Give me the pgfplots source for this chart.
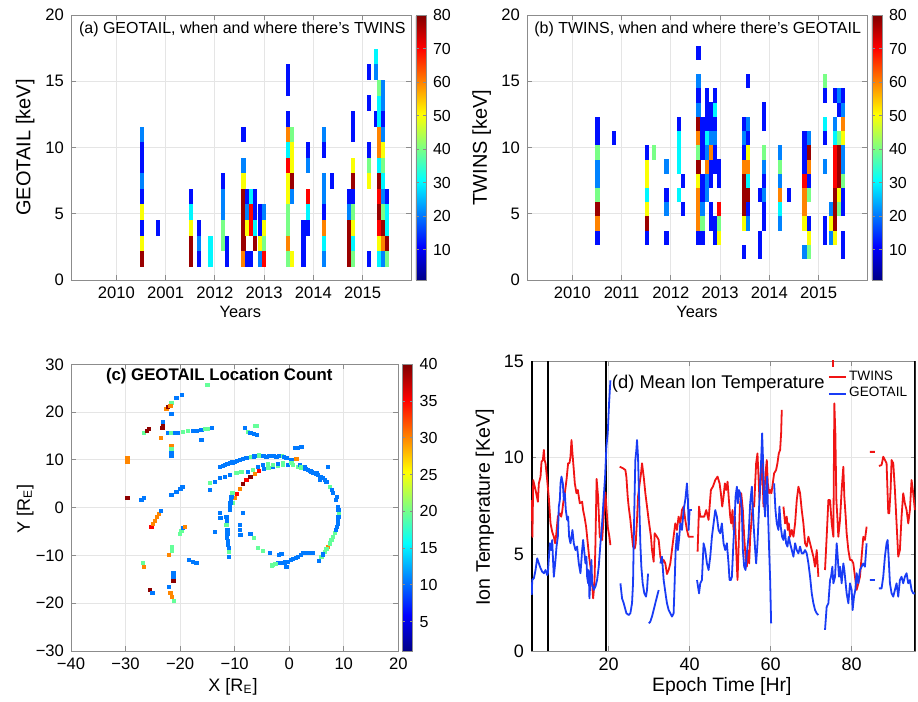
\documentclass[border=0pt]{standalone}
\usepackage{pgfplots}
\pgfplotsset{compat=1.18}
\usepackage{pgfplotstable}
\usepackage{fontspec}
\setmainfont{Liberation Sans}
\pgfkeys{/pgf/number format/assume math mode=true}
\pgfplotsset{colormap={mjet}{rgb255(0cm)=(0,0,135) rgb255(1cm)=(0,0,255) rgb255(3cm)=(0,255,255) rgb255(5cm)=(255,255,0) rgb255(7cm)=(255,0,0) rgb255(8cm)=(128,0,0)}}
\pgfdeclareplotmark{cellA}{\pgfpathrectangle{\pgfpoint{-1.05pt}{-3.9pt}}{\pgfpoint{2.1pt}{7.8pt}}\pgfusepathqfill}
\pgfdeclareplotmark{cellB}{\pgfpathrectangle{\pgfpoint{-1.05pt}{-3.56pt}}{\pgfpoint{2.1pt}{7.12pt}}\pgfusepathqfill}
\pgfdeclareplotmark{cellC}{\pgfpathrectangle{\pgfpoint{-1.05pt}{-1.05pt}}{\pgfpoint{2.1pt}{2.1pt}}\pgfusepathqfill}
\definecolor{twred}{RGB}{240,20,20}
\definecolor{geoblue}{RGB}{25,60,245}
\pgfplotsset{mstyle/.style={scale only axis, axis line style={black!45}, every tick/.style={black!45}, major tick length=2.5pt, grid=major, grid style={black!10,line width=0.4pt}, tick align=inside}}

\pgfplotstableread{
x y c
2010.52 1.59 78
2010.52 2.76 50
2010.52 3.94 12
2010.52 5.11 50
2010.52 6.29 12
2010.52 7.46 21
2010.52 8.64 12
2010.52 9.81 12
2010.52 10.99 21
2010.85 3.94 12
2011.51 1.59 78
2011.51 2.76 78
2011.51 3.94 50
2011.51 5.11 30
2011.51 6.29 12
2011.68 1.59 12
2011.68 2.76 21
2011.68 3.94 12
2011.91 1.59 30
2011.91 2.76 30
2012.16 2.76 40
2012.16 3.94 40
2012.16 5.11 21
2012.16 6.29 21
2012.16 7.46 12
2012.25 1.59 12
2012.25 2.76 12
2012.58 1.59 60
2012.58 2.76 78
2012.58 3.94 78
2012.58 5.11 78
2012.58 6.29 78
2012.58 7.46 50
2012.58 8.64 21
2012.58 10.99 12
2012.66 1.59 12
2012.66 3.94 50
2012.66 5.11 21
2012.66 6.29 12
2012.74 1.59 12
2012.74 3.94 70
2012.74 5.11 70
2012.74 6.29 30
2012.82 2.76 78
2012.82 3.94 30
2012.82 5.11 12
2012.82 6.29 12
2012.91 1.59 21
2012.91 2.76 50
2012.91 3.94 12
2012.91 5.11 12
2012.99 1.59 70
2012.99 2.76 40
2012.99 3.94 50
2012.99 5.11 21
2013.48 1.59 40
2013.48 2.76 60
2013.48 3.94 40
2013.48 5.11 40
2013.48 6.29 50
2013.48 7.46 50
2013.48 8.64 70
2013.48 9.81 30
2013.48 10.99 60
2013.48 12.16 12
2013.48 14.51 12
2013.48 15.69 12
2013.57 1.59 50
2013.57 6.29 21
2013.57 7.46 78
2013.57 8.64 50
2013.57 9.81 50
2013.57 10.99 40
2013.80 1.59 12
2013.80 2.76 12
2013.80 3.94 12
2013.89 3.94 12
2013.89 5.11 30
2013.89 6.29 70
2013.89 8.64 21
2013.89 9.81 12
2014.21 1.59 21
2014.21 2.76 30
2014.21 3.94 60
2014.21 5.11 12
2014.21 6.29 21
2014.21 7.46 21
2014.21 9.81 12
2014.21 10.99 21
2014.38 7.46 12
2014.72 1.59 78
2014.72 2.76 78
2014.72 3.94 78
2014.72 5.11 21
2014.72 6.29 12
2014.80 1.59 40
2014.80 2.76 30
2014.80 3.94 50
2014.80 5.11 40
2014.80 6.29 12
2014.80 7.46 78
2014.80 8.64 50
2014.80 10.99 12
2014.80 12.16 12
2015.13 1.59 12
2015.13 7.46 50
2015.13 8.64 40
2015.13 9.81 12
2015.13 13.34 12
2015.13 15.69 12
2015.27 12.16 12
2015.27 15.69 21
2015.27 16.86 30
2015.27 20.39 21
2015.33 1.59 30
2015.33 2.76 50
2015.33 3.94 70
2015.33 5.11 78
2015.33 6.29 70
2015.33 7.46 78
2015.33 8.64 30
2015.33 9.81 60
2015.33 10.99 60
2015.33 12.16 30
2015.33 13.34 30
2015.33 14.51 40
2015.41 1.59 21
2015.41 2.76 60
2015.41 3.94 78
2015.41 5.11 40
2015.41 6.29 21
2015.41 7.46 30
2015.41 8.64 40
2015.41 9.81 50
2015.41 10.99 21
2015.41 12.16 12
2015.41 13.34 21
2015.41 14.51 21
2015.50 1.59 40
2015.50 2.76 78
2015.50 3.94 30
2015.50 5.11 30
2015.50 6.29 12
}\dataA

\pgfplotstableread{
x y c
2010.51 3.18 12
2010.51 4.26 60
2010.51 5.33 78
2010.51 6.41 40
2010.51 7.48 21
2010.51 8.56 21
2010.51 9.63 40
2010.51 10.71 12
2010.51 11.78 12
2010.84 10.71 12
2011.51 3.18 12
2011.51 4.26 78
2011.51 5.33 50
2011.51 6.41 30
2011.51 7.48 50
2011.51 8.56 50
2011.51 9.63 12
2011.66 9.63 40
2011.91 3.18 12
2011.91 5.33 21
2011.91 6.41 12
2011.91 8.56 21
2012.16 6.41 30
2012.16 8.56 30
2012.16 9.63 30
2012.16 10.71 30
2012.16 11.78 12
2012.24 5.33 12
2012.24 7.48 12
2012.56 3.18 12
2012.56 4.26 60
2012.56 5.33 60
2012.56 6.41 60
2012.56 7.48 50
2012.56 8.56 78
2012.56 9.63 40
2012.56 10.71 60
2012.56 11.78 78
2012.56 12.86 21
2012.56 13.93 12
2012.56 15.01 21
2012.56 17.16 12
2012.64 3.18 12
2012.64 4.26 40
2012.64 5.33 21
2012.64 6.41 12
2012.64 7.48 12
2012.64 9.63 12
2012.64 10.71 12
2012.64 11.78 12
2012.73 6.41 21
2012.73 7.48 21
2012.73 8.56 60
2012.73 9.63 21
2012.73 10.71 30
2012.73 11.78 12
2012.73 12.86 12
2012.73 13.93 12
2012.81 4.26 12
2012.81 5.33 12
2012.81 7.48 12
2012.81 8.56 12
2012.81 9.63 60
2012.81 10.71 21
2012.81 11.78 12
2012.81 12.86 12
2012.90 3.18 12
2012.90 4.26 12
2012.90 8.56 12
2012.90 9.63 12
2012.90 10.71 21
2012.90 11.78 12
2012.90 12.86 30
2012.90 13.93 12
2012.98 3.18 50
2012.98 4.26 40
2012.98 5.33 70
2012.98 7.48 12
2012.98 8.56 12
2013.48 2.11 12
2013.48 4.26 50
2013.48 5.33 78
2013.48 6.41 78
2013.48 7.48 78
2013.48 8.56 60
2013.48 9.63 12
2013.48 10.71 21
2013.48 11.78 12
2013.56 4.26 21
2013.56 5.33 12
2013.56 6.41 78
2013.56 7.48 30
2013.56 8.56 60
2013.56 9.63 50
2013.56 10.71 12
2013.56 11.78 21
2013.56 15.01 12
2013.81 2.11 12
2013.81 3.18 12
2013.81 6.41 12
2013.89 4.26 12
2013.89 5.33 12
2013.89 6.41 21
2013.89 7.48 12
2013.89 8.56 21
2013.89 9.63 40
2013.89 11.78 12
2013.89 12.86 12
2014.22 4.26 21
2014.22 5.33 30
2014.22 6.41 60
2014.22 7.48 21
2014.22 8.56 40
2014.22 9.63 21
2014.39 6.41 12
2014.71 2.11 21
2014.71 4.26 50
2014.71 5.33 60
2014.71 6.41 60
2014.71 7.48 70
2014.71 8.56 12
2014.71 9.63 12
2014.71 10.71 12
2014.80 2.11 40
2014.80 3.18 50
2014.80 4.26 12
2014.80 6.41 40
2014.80 7.48 12
2014.80 8.56 60
2014.80 9.63 78
2014.80 10.71 21
2015.12 3.18 12
2015.12 4.26 12
2015.12 8.56 21
2015.12 10.71 12
2015.12 11.78 30
2015.12 13.93 12
2015.12 15.01 40
2015.25 3.18 21
2015.25 4.26 50
2015.25 5.33 21
2015.33 3.18 50
2015.33 4.26 78
2015.33 5.33 78
2015.33 6.41 78
2015.33 7.48 70
2015.33 8.56 70
2015.33 9.63 70
2015.33 10.71 30
2015.33 11.78 21
2015.33 13.93 12
2015.41 5.33 40
2015.41 6.41 50
2015.41 7.48 78
2015.41 8.56 78
2015.41 9.63 78
2015.41 10.71 40
2015.41 12.86 12
2015.41 13.93 21
2015.49 2.11 12
2015.49 3.18 12
2015.49 5.33 12
2015.49 6.41 12
2015.49 7.48 40
2015.49 8.56 21
2015.49 9.63 21
2015.49 10.71 50
2015.49 11.78 60
2015.49 12.86 21
2015.49 13.93 12
}\dataB

\pgfplotstableread{
x y c
-10.26 0.91 19.5
-9.96 1.95 30
-9.53 2.86 35
-9.04 3.84 30
-8.43 4.95 39.5
-7.82 5.79 35
-7.09 6.49 39.5
-6.29 7.05 30
-5.5 7.61 35
-4.64 8.03 10.5
-3.79 8.37 19.5
-2.93 8.58 10.5
-2.02 8.72 19.5
-1.1 8.86 19.5
-0.18 8.86 10.5
0.73 8.86 19.5
1.65 8.58 19.5
2.57 8.23 10.5
3.48 7.89 10.5
4.4 7.33 10.5
5.31 6.84 10.5
6.11 6.14 10.5
6.84 5.44 10.5
7.45 4.4 19.5
8.06 3.0 10.5
8.55 1.6 10.5
8.98 0.21 10.5
9.1 -1.19 19.5
8.98 -2.58 10.5
8.8 -3.98 10.5
8.37 -5.37 19.5
7.76 -6.77 19.5
7.15 -8.16 30
6.54 -9.21 19.5
5.93 -10.26 19.5
5.5 -11.17 10.5
4.4 -9.56 10.5
3.48 -9.56 10.5
2.57 -9.56 10.5
1.65 -10.26 10.5
0.73 -10.82 10.5
-0.18 -11.31 10.5
-0.49 -12.49 10.5
-1.22 -11.51 10.5
-2.02 -11.51 10.5
-2.93 -12.0 19.5
-1.4 -9.7 10.5
-1.83 -9.91 10.5
-3.54 -9.42 10.5
-4.76 -9.0 19.5
-5.68 -8.51 19.5
-6.48 -6.42 19.5
-7.09 -5.51 10.5
-12.71 -1.19 10.5
-12.58 -2.23 10.5
-13.62 -5.02 10.5
-11.48 -1.88 10.5
-11.48 -3.63 19.5
-11.3 -4.68 10.5
-11.36 -6.42 10.5
-11.18 -7.82 10.5
-11.0 -9.21 19.5
-11.0 -10.26 10.5
-10.87 -0.49 10.5
-10.75 0.91 10.5
-10.57 2.3 10.5
-10.38 3.0 19.5
-9.04 -3.63 10.5
-9.04 -4.68 10.5
-8.92 -5.72 10.5
-8.43 -1.05 10.5
-12.71 8.58 10.5
-11.79 8.93 10.5
-10.87 9.28 10.5
-9.96 9.63 10.5
-9.04 9.98 10.5
-7.82 10.33 10.5
-6.9 10.54 19.5
-5.99 10.82 10.5
-5.07 10.82 10.5
-4.15 10.68 10.5
-3.24 10.82 10.5
-2.32 10.68 10.5
-1.4 10.82 19.5
-0.49 10.33 10.5
0.43 9.98 10.5
1.34 10.12 30
-14.54 5.09 19.5
-14.54 3.7 10.5
-13.62 5.44 10.5
-12.71 6.14 10.5
-11.79 6.49 10.5
-10.87 6.84 10.5
-9.65 7.19 19.5
-8.74 7.54 19.5
-7.51 7.54 10.5
-6.6 7.89 19.5
-5.68 8.44 10.5
-4.76 8.93 10.5
-3.85 9.14 19.5
-2.93 8.93 19.5
-2.02 9.14 10.5
-1.1 9.28 19.5
0.43 9.42 19.5
1.95 8.93 10.5
2.87 8.58 10.5
4.09 7.54 10.5
5.0 7.19 10.5
5.74 6.49 10.5
7.15 8.58 10.5
1.04 12.42 10.5
1.65 12.56 10.5
2.26 12.63 10.5
-8.12 16.61 10.5
-7.51 15.91 19.5
-7.09 15.56 10.5
-6.48 15.35 10.5
-5.86 15.14 10.5
-6.29 17.1 19.5
-5.86 17.17 19.5
-29.63 1.95 39.5
-29.63 10.47 30
-29.63 9.63 30
-27.06 1.6 10.5
-26.63 1.95 10.5
-26.63 15.56 19.5
-26.14 16.05 39.5
-25.66 16.4 39.5
-23.21 16.61 39.5
-23.09 17.31 39.5
-23.15 18.0 10.5
-23.52 14.5 30
-22.48 20.57 30
-22.17 21.0 39.5
-21.56 21.97 19.5
-21.75 21.28 30
-21.56 19.6 10.5
-20.65 23.0 10.5
-19.61 23.56 10.5
-22.17 15.56 10.5
-21.56 15.56 19.5
-20.95 15.56 10.5
-20.34 15.56 10.5
-19.43 15.91 19.5
-18.51 16.12 19.5
-17.59 16.12 10.5
-16.86 16.12 10.5
-16.07 16.26 10.5
-15.46 16.4 19.5
-14.85 16.54 19.5
-14.11 16.61 10.5
-16.07 14.17 10.5
-14.97 25.67 19.5
-21.56 12.91 30
-21.56 12.21 19.5
-21.56 11.51 10.5
-21.56 10.89 10.5
-25.23 -3.98 35
-24.93 -3.42 30
-24.56 -2.72 30
-24.19 -2.02 30
-23.83 -1.33 30
-23.46 -0.7 10.5
-20.04 -5.51 19.5
-19.73 -4.88 19.5
-19.43 -4.33 10.5
-19.06 -3.98 30
-21.5 -8.16 19.5
-21.5 -9.0 19.5
-21.99 -9.91 30
-18.33 -10.96 10.5
-17.59 -11.31 10.5
-16.98 -11.51 10.5
-26.76 -11.65 19.5
-26.63 -12.49 30
-21.2 -13.75 10.5
-21.2 -14.59 10.5
-21.2 -15.28 39.5
-25.54 -17.24 39.5
-25.05 -17.8 10.5
-22.05 -16.68 10.5
-21.75 -17.94 30
-21.5 -18.77 30
-21.14 -19.54 19.5
-21.56 2.65 10.5
-20.65 3.35 10.5
-19.92 3.84 10.5
-19.55 4.4 10.5
8.8 2.3 10.5
9.05 -0.5 10.5
9.05 -1.9 10.5
8.9 -3.3 10.5
8.6 -4.7 10.5
8.1 -6.1 19.5
7.45 -7.5 19.5
6.85 -8.7 19.5
6.2 -9.8 10.5
5.7 5.8 10.5
6.5 5.8 10.5
4.85 7.1 10.5
3.9 7.6 10.5
3.0 8.05 10.5
2.1 8.4 19.5
7.8 3.7 10.5
3.9 -9.56 10.5
3.0 -9.56 10.5
2.1 -9.9 10.5
1.2 -10.5 10.5
0.3 -11.0 10.5
-0.7 -11.5 10.5
-1.7 -11.6 10.5
-2.5 -11.8 19.5
-3.2 -12.1 19.5
-8.4 10.2 10.5
-6.45 10.7 10.5
-5.5 10.9 19.5
-4.6 10.8 10.5
-3.7 10.75 10.5
-2.8 10.75 10.5
-1.9 10.75 10.5
-0.95 10.6 10.5
-10.4 9.45 10.5
-9.5 9.8 10.5
-11.3 9.1 10.5
-12.2 8.75 10.5
-11.4 -2.8 10.5
-11.3 -5.5 10.5
-11.25 -7.1 10.5
-11.1 -8.5 10.5
-10.8 0.2 10.5
-10.65 1.6 10.5
}\dataC

\begin{document}
\begin{tikzpicture}
\path[use as bounding box] (0,0) rectangle (459pt,351pt);

% ---------------- (a)
\begin{axis}[mstyle, at={(35.5pt,211pt)}, anchor=south west, width=170pt, height=132.5pt,
  xmin=2009.08, xmax=2015.98, ymin=0, ymax=20,
  xtick={2010,2011,2012,2013,2014,2015}, xticklabels={2010,2001,2012,2013,2014,2015},
  ytick={0,5,10,15,20},
  tick label style={font=\fontsize{8.3}{9}\selectfont},
  xlabel={Years}, xlabel style={font=\fontsize{8.2}{9}\selectfont, at={(axis description cs:0.498,-0.12)}, anchor=center},
  ylabel={GEOTAIL [keV]}, ylabel style={font=\fontsize{10}{11}\selectfont, at={(axis description cs:-0.135,0.5)}, anchor=center},
  colormap name=mjet, point meta min=1, point meta max=80, colorbar,
  colorbar style={at={(parent axis.north east)}, anchor=north west, xshift=-6.04pt, width=5pt,
    ytick={10,20,...,80}, yticklabel style={font=\fontsize{8}{9}\selectfont},
    major tick length=1.5pt, axis line style={black!45}, every tick/.style={black!45}}]
\addplot[scatter, only marks, mark=cellA, scatter src=explicit] table[x=x,y=y,meta=c]{\dataA};
\node[font=\fontsize{8}{9}\selectfont] at (rel axis cs:0.504,0.946) {(a) GEOTAIL, when and where there's TWINS};
\end{axis}

% ---------------- (b)
\begin{axis}[mstyle, at={(263.5pt,211pt)}, anchor=south west, width=170pt, height=132.5pt,
  xmin=2009.08, xmax=2015.98, ymin=0, ymax=20,
  xtick={2010,2011,2012,2013,2014,2015}, xticklabels={2010,2011,2012,2013,2014,2015},
  ytick={0,5,10,15,20},
  tick label style={font=\fontsize{8.3}{9}\selectfont},
  xlabel={Years}, xlabel style={font=\fontsize{8.2}{9}\selectfont, at={(axis description cs:0.5,-0.12)}, anchor=center},
  ylabel={TWINS [keV]}, ylabel style={font=\fontsize{10}{11}\selectfont, at={(axis description cs:-0.133,0.5)}, anchor=center},
  colormap name=mjet, point meta min=1, point meta max=80, colorbar,
  colorbar style={at={(parent axis.north east)}, anchor=north west, xshift=-6.04pt, width=5pt,
    ytick={10,20,...,80}, yticklabel style={font=\fontsize{8}{9}\selectfont},
    major tick length=1.5pt, axis line style={black!45}, every tick/.style={black!45}}]
\addplot[scatter, only marks, mark=cellB, scatter src=explicit] table[x=x,y=y,meta=c]{\dataB};
\node[font=\fontsize{8}{9}\selectfont] at (rel axis cs:0.502,0.946) {(b) TWINS, when and where there's GEOTAIL};
\end{axis}

% ---------------- (c)
\begin{axis}[mstyle, at={(35.5pt,25.5pt)}, anchor=south west, width=163.65pt, height=143.35pt,
  xmin=-40, xmax=20, ymin=-30, ymax=30,
  xtick={-40,-30,-20,-10,0,10,20}, xticklabels={−40,−30,−20,−10,0,10,20},
  ytick={-30,-20,-10,0,10,20,30}, yticklabels={−30,−20,−10,0,10,20,30},
  tick label style={font=\fontsize{8.3}{9}\selectfont},
  xlabel={X [R\textsubscript{E}]}, xlabel style={font=\fontsize{9}{10}\selectfont, at={(axis description cs:0.495,-0.125)}, anchor=center},
  ylabel={Y [R\textsubscript{E}]}, ylabel style={font=\fontsize{9}{10}\selectfont, at={(axis description cs:-0.14,0.495)}, anchor=center},
  colormap name=mjet, point meta min=1, point meta max=40, colorbar,
  colorbar style={at={(parent axis.north east)}, anchor=north west, xshift=-6.54pt, width=5.2pt,
    ytick={5,10,...,40}, yticklabel style={font=\fontsize{8}{9}\selectfont},
    major tick length=1.5pt, axis line style={black!45}, every tick/.style={black!45}}]
\addplot[scatter, only marks, mark=cellC, scatter src=explicit] table[x=x,y=y,meta=c]{\dataC};
\node[font=\bfseries\fontsize{8.4}{9}\selectfont] at (rel axis cs:0.453,0.959) {(c) GEOTAIL Location Count};
\end{axis}

% ---------------- (d)
\begin{axis}[mstyle, at={(265.5pt,25.5pt)}, anchor=south west, width=192.35pt, height=145pt,
  xmin=0.8, xmax=95.8, ymin=0, ymax=15,
  xtick={20,40,60,80}, ytick={0,5,10,15},
  tick label style={font=\fontsize{9}{10}\selectfont},
  xlabel={Epoch Time [Hr]}, xlabel style={font=\fontsize{9.7}{11}\selectfont, at={(axis description cs:0.496,-0.124)}, anchor=center},
  ylabel={Ion Temperature [KeV]}, ylabel style={font=\fontsize{9.8}{11}\selectfont, at={(axis description cs:-0.12,0.495)}, anchor=center},
  unbounded coords=jump,
  legend style={at={(0.985,0.975)}, anchor=north east, draw=none, fill=none, font=\fontsize{6.8}{7}\selectfont, inner sep=0pt, row sep=-0.5pt, nodes={inner sep=1.2pt}},
  legend cell align=left,
  legend image code/.code={\draw[#1, line width=1pt] (0pt,0pt) -- (8.5pt,0pt);}]
\addplot[black, line width=1pt, forget plot] coordinates {(1.1,0) (1.1,15)};
\addplot[black, line width=1pt, forget plot] coordinates {(5.1,0) (5.1,15)};
\addplot[black, line width=1pt, forget plot] coordinates {(19.3,0) (19.3,15)};
\addplot[black, line width=1pt, forget plot] coordinates {(95.65,0) (95.65,15)};
\addplot[twred, line width=0.9pt, line join=round] coordinates {
(1.0,7.8) (1.15,5.9) (1.35,8.84) (1.92,8.33) (2.5,7.72) (2.74,8.67) (3.16,9.02) (3.4,9.79) (3.73,9.88) (3.98,10.4) (4.14,9.88) (4.39,9.71) (4.8,8.84) (5.21,7.9) (5.62,6.6) (6.03,6.17) (6.44,5.91) (6.77,5.57) (7.02,6.0) (7.43,6.95) (7.92,7.12) (8.25,6.95) (8.5,7.21) (8.74,7.64) (9.15,8.16) (9.56,8.84) (9.97,9.71) (10.3,9.71) (10.55,10.05) (10.8,10.91) (11.04,10.22) (11.37,9.36) (11.62,8.67) (12.03,8.16) (12.36,8.33) (12.85,7.64) (13.43,7.72) (13.67,7.29) (14.0,6.95) (14.41,6.43) (14.82,5.57) (15.15,4.88) (15.48,4.36) (15.81,3.84) (16.14,2.72) (16.47,3.5) (16.71,5.5) (17.0,8.9) (17.37,7.98) (17.78,5.91) (18.36,5.74) (18.77,6.95) (19.18,8.2) (19.75,6.43) (20.16,5.91) (20.41,5.48) (21,nan)
(22.71,9.53) (23.53,9.45) (24.11,9.36) (24.36,9.0) (24.68,7.98) (24.93,7.45) (25.34,6.78) (25.75,5.91) (26.0,5.4) (26.41,5.3) (26.66,5.57) (26.98,6.78) (27.23,7.98) (27.64,8.67) (27.97,9.19) (28.22,9.71) (28.63,9.02) (29.04,8.16) (29.45,7.47) (29.86,6.78) (30.43,5.91) (30.68,5.22) (31.09,4.62) (31.34,6.09) (31.91,5.91) (32.33,5.74) (32.74,4.88) (33.15,4.53) (33.56,4.71) (33.97,4.53) (34.38,3.98) (34.79,4.19) (35.2,4.53) (35.61,5.22) (36.02,5.91) (36.43,6.6) (36.84,6.26) (37.25,6.95) (37.67,6.6) (38.08,7.29) (38.49,7.47) (38.9,6.78) (39.31,6.26) (39.72,5.91) (40.13,5.91) (40.95,5.91) (41.5,nan)
(41.94,5.14) (42.3,7.47) (42.6,6.95) (43.59,6.95) (44.08,7.29) (44.65,6.78) (45.23,8.33) (45.72,8.5) (46.3,8.84) (46.87,9.02) (47.37,8.67) (47.69,8.16) (48.02,7.47) (48.35,7.98) (48.68,8.67) (49.01,8.33) (49.34,8.76) (49.67,7.81) (50.0,6.95) (50.24,6.6) (50.57,7.29) (50.82,6.26) (51.15,6.95) (51.47,5.22) (51.8,3.67) (52.05,5.22) (52.38,7.47) (52.71,8.16) (53.12,7.29) (53.45,5.91) (53.78,4.88) (54.1,4.36) (54.35,5.22) (54.68,4.53) (54.93,5.91) (55.34,6.95) (55.58,7.64) (55.91,7.47) (56.16,8.67) (56.4,9.71) (56.73,10.22) (56.98,9.02) (57.23,7.81) (57.55,9.02) (57.8,9.88) (58.05,8.67) (58.21,7.47) (58.46,8.33) (58.79,9.36) (59.03,9.88) (59.28,8.67) (59.61,8.16) (59.86,8.33) (60.18,8.16) (60.84,9.19) (61.33,9.36) (61.66,9.71) (61.99,10.22) (62.32,10.4) (62.57,11.26) (62.73,12.47) (62.9,nan)
(63.14,7.47) (63.55,6.6) (63.96,6.95) (64.21,6.26) (64.46,6.6) (64.79,5.91) (65.2,6.26) (65.61,5.91) (66.02,6.6) (66.43,7.81) (66.84,8.5) (67.25,8.16) (67.66,7.29) (68.07,6.6) (68.48,5.57) (68.89,5.4) (69.31,5.91) (69.72,5.57) (70.13,5.22) (70.54,4.88) (70.95,4.36) (71.36,5.22) (71.77,3.84) (72.5,nan)
(73.41,4.19) (73.82,5.91) (74.24,7.81) (74.65,7.81) (75.06,6.6) (75.47,5.91) (75.71,12.81) (75.96,11.26) (76.21,7.81) (76.45,6.95) (76.7,5.91) (77.11,6.78) (77.52,8.33) (77.93,9.53) (78.18,7.98) (78.51,6.95) (78.75,6.09) (79.17,5.22) (79.58,4.71) (79.99,4.71) (80.4,4.53) (80.81,3.84) (81.22,3.16) (81.63,3.5) (82.04,3.84) (82.45,4.88) (82.86,5.91) (83.27,5.74) (83.68,6.43) (84,nan)
(75.4,14.7) (75.4,15.5) (75.5,nan)
(84.5,10.3) (85.74,10.3) (86,nan)
(86.72,9.57) (87.38,9.62) (87.79,10.05) (88.2,9.88) (88.61,9.71) (89.03,7.12) (89.27,7.12) (89.6,8.33) (89.85,9.88) (90.26,9.71) (90.67,8.33) (91.08,6.6) (91.49,4.88) (91.9,5.22) (92.31,6.95) (92.72,8.16) (93.13,7.64) (93.55,7.29) (93.96,6.6) (94.37,7.29) (94.78,8.84) (95.19,8.16) (95.6,7.29)
};
\addlegendentry{TWINS}
\addplot[geoblue, line width=0.9pt, line join=round] coordinates {
(1.0,2.9) (1.1,3.67) (1.51,3.76) (1.92,4.19) (2.33,4.79) (2.74,4.53) (3.16,4.28) (3.57,4.1) (3.98,4.02) (4.39,4.19) (4.8,3.93) (4.96,4.02) (5.46,5.57) (5.78,5.22) (6.03,5.74) (6.28,4.53) (6.44,3.84) (6.85,4.71) (7.1,5.4) (7.43,5.91) (7.67,7.47) (7.92,7.81) (8.09,8.67) (8.33,9.02) (8.66,8.67) (8.91,7.81) (9.15,8.16) (9.4,7.29) (9.73,6.78) (9.97,6.95) (10.22,5.91) (10.55,5.57) (10.8,5.91) (11.04,6.26) (11.37,5.57) (11.78,5.22) (12.19,5.4) (12.6,4.53) (13.02,4.02) (13.43,5.22) (13.67,5.74) (13.84,5.4) (14.25,4.53) (14.49,4.88) (14.66,3.84) (14.91,3.5) (15.07,4.19) (15.23,2.72) (15.48,3.67) (15.73,4.71) (15.89,3.5) (16.3,3.16) (16.71,3.33) (17.12,3.67) (17.53,4.36) (17.95,5.57) (18.36,6.6) (18.77,7.98) (19.1,9.02) (19.42,10.57) (19.75,11.26) (20.08,12.81) (20.41,14.0) (21,nan)
(22.88,3.5) (23.29,2.72) (23.7,2.47) (24.36,1.95) (24.93,1.86) (25.34,1.95) (25.75,2.47) (26.0,3.5) (26.16,5.57) (26.41,8.33) (26.57,9.88) (26.82,10.4) (26.98,10.91) (27.23,10.05) (27.4,8.67) (27.56,7.47) (27.8,5.57) (28.05,4.36) (28.38,3.5) (28.79,2.98) (29.2,2.81) (29.45,3.16) (29.7,4.0) (29.8,nan)
(29.9,1.43) (30.27,1.52) (30.68,1.78) (31.09,2.12) (31.5,2.47) (31.91,2.81) (32.33,3.15) (32.5,nan)
(32.74,4.53) (33.15,4.88) (33.56,3.67) (34.13,2.81) (34.38,2.47) (34.79,2.12) (35.2,1.95) (35.61,1.78) (36.02,1.95) (36.27,3.5) (36.52,5.22) (36.84,6.09) (37.09,5.22) (37.42,5.91) (37.67,6.6) (38.08,6.26) (38.49,7.29) (38.9,7.81) (39.31,8.67) (39.56,7.81) (39.72,6.26) (39.97,7.29) (40.54,7.29) (41,nan)
(41.8,3.67) (42.3,2.98) (42.6,3.5) (43.01,3.67) (43.42,5.57) (43.83,5.22) (44.24,4.53) (44.65,4.19) (45.07,4.88) (45.48,5.91) (45.89,6.6) (46.3,7.29) (46.71,6.95) (47.12,6.26) (47.53,6.09) (47.94,6.6) (48.35,5.57) (48.76,5.22) (49.17,5.57) (49.58,4.53) (49.83,3.67) (50.16,3.67) (50.41,3.84) (50.82,5.74) (51.06,6.6) (51.31,7.98) (51.64,8.5) (51.89,7.64) (52.13,8.33) (52.46,8.16) (52.87,7.29) (53.12,5.22) (53.45,4.36) (53.78,4.19) (54.1,5.05) (54.52,5.91) (54.93,7.64) (55.34,8.5) (55.75,6.6) (56.16,5.22) (56.4,4.53) (56.73,5.57) (57.06,7.12) (57.39,8.67) (57.64,9.88) (57.88,11.26) (58.13,9.71) (58.38,7.64) (58.62,6.95) (58.87,8.33) (59.12,9.02) (59.36,6.95) (59.61,5.22) (59.86,3.67) (60.1,1.43) (60.5,nan)
(60.84,8.67) (61.17,7.29) (61.5,6.6) (61.91,6.26) (62.15,7.47) (62.48,6.43) (62.81,5.91) (63.14,5.74) (63.47,6.26) (63.8,5.57) (64.13,5.4) (64.46,5.91) (64.79,5.57) (65.2,5.22) (65.61,4.88) (66.02,5.57) (66.43,5.22) (66.84,5.05) (67.25,5.4) (67.66,5.05) (68.07,5.05) (68.48,5.22) (68.89,5.05) (69.31,4.53) (69.72,3.84) (70.13,2.98) (70.54,2.47) (70.95,2.12) (71.36,1.95) (71.77,1.86) (72.5,nan)
(73.41,1.09) (73.82,2.29) (74.24,2.47) (74.65,3.67) (74.89,3.84) (75.22,4.36) (75.47,3.5) (75.88,3.84) (76.29,5.57) (76.54,4.88) (76.86,3.84) (77.11,4.36) (77.52,3.5) (77.93,4.53) (78.18,4.19) (78.51,3.5) (78.75,2.98) (79.17,2.47) (79.58,3.5) (79.99,3.16) (80.23,2.12) (80.56,2.81) (80.89,3.16) (81.22,4.02) (81.63,3.5) (82.04,4.19) (82.45,4.36) (82.86,4.53) (83.27,4.36) (83.68,5.57) (84,nan)
(84.5,3.67) (85.74,3.67) (86,nan)
(86.72,3.24) (87.38,3.24) (87.79,3.84) (88.2,4.88) (88.61,5.57) (88.86,5.74) (89.11,4.88) (89.44,3.5) (89.85,2.98) (90.26,2.81) (90.67,3.16) (91.08,3.5) (91.49,2.81) (91.9,3.67) (92.31,3.84) (92.72,3.5) (93.13,3.84) (93.55,4.02) (93.96,3.5) (94.37,3.67) (94.78,3.16) (95.19,2.98) (95.6,2.98)
};
\addlegendentry{GEOTAIL}
\node[font=\fontsize{9.2}{10}\selectfont] at (rel axis cs:0.487,0.923) {(d) Mean Ion Temperature};
\end{axis}
\end{tikzpicture}
\end{document}
